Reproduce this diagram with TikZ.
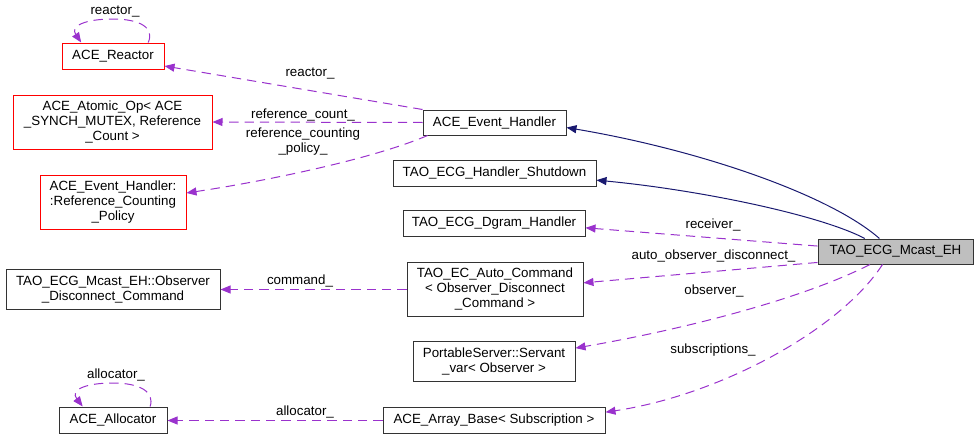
\documentclass[tikz,border=0pt]{standalone}
\usepackage{fontspec}
\setmainfont{Liberation Sans}
\usetikzlibrary{arrows.meta}
\definecolor{usecol}{HTML}{9A32CD}
\definecolor{inhcol}{HTML}{191970}
\definecolor{redbox}{HTML}{FF0000}
\definecolor{mainfill}{HTML}{BFBFBF}
\definecolor{boxline}{HTML}{333333}
\tikzset{
  cls/.style={draw=boxline, line width=0.75pt, inner sep=0pt, align=center, fill=white},
  redcls/.style={cls, draw=redbox},
  sz/.style 2 args={minimum width=#1*0.75pt, minimum height=#2*0.75pt},
  usage/.style={draw=usecol, line width=0.75pt, dash pattern=on 7pt off 4.5pt,
    -{Triangle[length=7.5pt,width=6pt,fill=usecol]}},
  inh/.style={draw=inhcol, line width=0.75pt,
    -{Triangle[length=7.5pt,width=6pt,fill=inhcol]}},
  lbl/.style={inner sep=0pt, align=center}
}
\begin{document}
\begin{tikzpicture}[x=0.75pt, y=-0.75pt, font=\fontsize{10}{11.25}\selectfont]
\useasboundingbox (0,0) rectangle (979,439);

% nodes
\node[redcls, sz={102}{26}] (reactor) at (113,56) {ACE\_Reactor};
\node[redcls, sz={199}{54}] (atomic) at (112.5,122) {ACE\_Atomic\_Op< ACE\\\_SYNCH\_MUTEX, Reference\\\_Count >};
\node[redcls, sz={146}{54}] (policy) at (113,202) {ACE\_Event\_Handler:\\:Reference\_Counting\\\_Policy};
\node[cls, sz={143}{25}] (eh) at (494.5,122.5) {ACE\_Event\_Handler};
\node[cls, sz={203}{26}] (shutdown) at (494.5,173) {TAO\_ECG\_Handler\_Shutdown};
\node[cls, sz={182}{26}] (dgram) at (494,223) {TAO\_ECG\_Dgram\_Handler};
\node[cls, fill=mainfill, sz={155}{25}] (mcast) at (895.5,251.5) {TAO\_ECG\_Mcast\_EH};
\node[cls, sz={214}{40}] (odc) at (113,289) {TAO\_ECG\_Mcast\_EH::Observer\\\_Disconnect\_Command};
\node[cls, sz={176}{54}] (auto) at (495,289) {TAO\_EC\_Auto\_Command\\< Observer\_Disconnect\\\_Command >};
\node[cls, sz={162}{40}] (servant) at (494,361) {PortableServer::Servant\\\_var< Observer >};
\node[cls, sz={108}{26}] (alloc) at (113,420) {ACE\_Allocator};
\node[cls, sz={222}{26}] (array) at (494,420) {ACE\_Array\_Base< Subscription >};

% inheritance
\draw[inh] (mcast.141) .. controls (830,195) and (700,150) .. (eh.-4);
\draw[inh] (mcast.157) .. controls (820,215) and (700,190) .. (shutdown.-4.5);

% usage from mcast
\draw[usage] (mcast.176.7) -- (dgram.-3.8);
\draw[usage] (mcast.-172.3) -- (auto.4.5);
\draw[usage] (mcast.-153) .. controls (800,300) and (680,330) .. (servant.9.8);
\draw[usage] (mcast.-135) .. controls (840,330) and (720,395) .. (array.4.1);

\draw[usage] ([yshift=-0.375pt]auto.west) -- ([yshift=-0.375pt]odc.east);
\draw[usage] ([yshift=-0.375pt]array.west) -- ([yshift=-0.375pt]alloc.east);

\draw[usage] (eh.north west) -- (reactor.-11.1);
\draw[usage] (eh.west) -- (atomic.east);
\draw[usage] (eh.-169.5) .. controls (370,160) and (260,182) .. (policy.7.8);

% self loops
\draw[usage] (reactor.21) .. controls (155,28) and (140,19) .. (113,19)
  .. controls (85,19) and (70,26) .. (reactor.157);
\draw[usage] (alloc.20.4) .. controls (155,392) and (140,383) .. (113,383)
  .. controls (85,383) and (70,390) .. (alloc.156.6);

% labels
\node[lbl] (l1) at (115,12) {reactor\_};
\node[lbl] (l2) at (310,74) {reactor\_};
\node[lbl] (l3) at (303,115) {reference\_count\_};
\node[lbl] (l4) at (303,142) {reference\_counting\\\_policy\_};
\node[lbl] (l5) at (713,225) {receiver\_};
\node[lbl] (l6) at (713.5,256) {auto\_observer\_disconnect\_};
\node[lbl] (l7) at (714,291) {observer\_};
\node[lbl] (l8) at (713,350) {subscriptions\_};
\node[lbl] (l9) at (300,281) {command\_};
\node[lbl] (l10) at (305,412) {allocator\_};
\node[lbl] (l11) at (116,375) {allocator\_};
\end{tikzpicture}
\end{document}
